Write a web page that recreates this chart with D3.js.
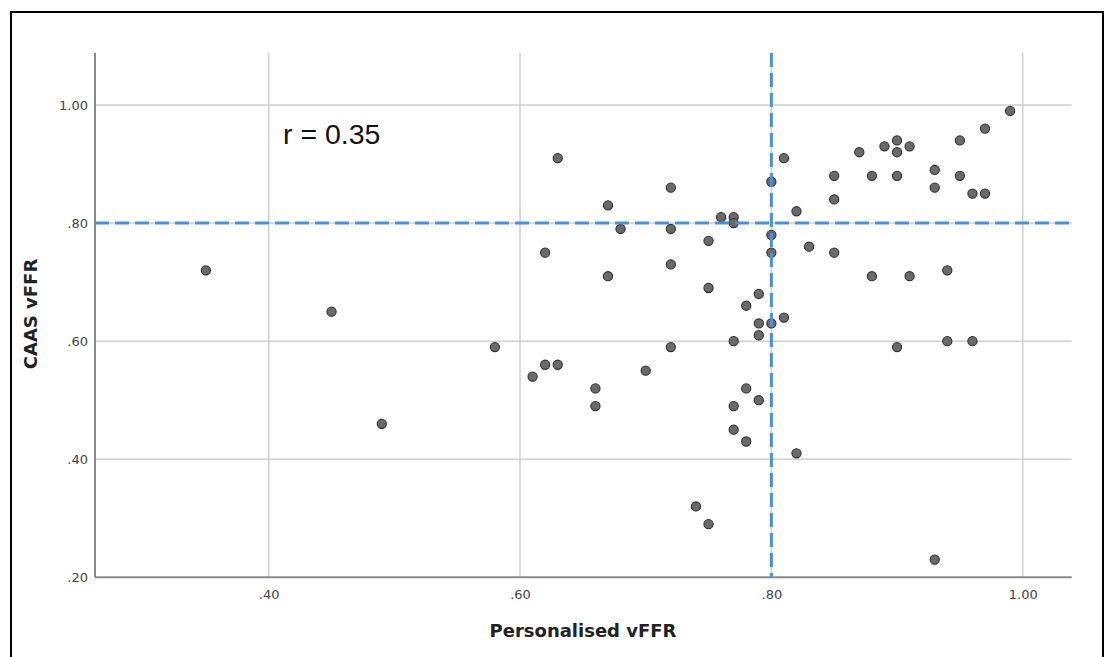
<!DOCTYPE html>
<html>
<head>
<meta charset="utf-8">
<script src="https://cdn.jsdelivr.net/npm/d3@7"></script>
<style>
  html, body { margin: 0; padding: 0; background: #fff; }
  svg { display: block; }
</style>
</head>
<body>
<svg id="chart" width="1114" height="657"></svg>
<script>
// Personalised vFFR (x) values
const personalisedVFFR = [
  0.35, 0.45, 0.49, 0.58, 0.61, 0.62, 0.63, 0.62, 0.63, 0.66,
  0.66, 0.67, 0.67, 0.68, 0.70, 0.72, 0.72, 0.72, 0.72, 0.75,
  0.75, 0.74, 0.75, 0.76, 0.77, 0.77, 0.77, 0.77, 0.77, 0.78,
  0.78, 0.78, 0.79, 0.79, 0.79, 0.79, 0.80, 0.80, 0.80, 0.80,
  0.81, 0.81, 0.82, 0.82, 0.83, 0.85, 0.85, 0.85, 0.87, 0.88,
  0.88, 0.89, 0.90, 0.90, 0.90, 0.90, 0.91, 0.91, 0.93, 0.93,
  0.93, 0.94, 0.94, 0.95, 0.95, 0.96, 0.96, 0.97, 0.97, 0.99
];
// CAAS vFFR (y) values
const caasVFFR = [
  0.72, 0.65, 0.46, 0.59, 0.54, 0.56, 0.56, 0.75, 0.91, 0.52,
  0.49, 0.83, 0.71, 0.79, 0.55, 0.86, 0.79, 0.73, 0.59, 0.77,
  0.69, 0.32, 0.29, 0.81, 0.81, 0.80, 0.60, 0.49, 0.45, 0.66,
  0.52, 0.43, 0.68, 0.63, 0.61, 0.50, 0.87, 0.78, 0.75, 0.63,
  0.91, 0.64, 0.82, 0.41, 0.76, 0.88, 0.84, 0.75, 0.92, 0.88,
  0.71, 0.93, 0.94, 0.92, 0.88, 0.59, 0.93, 0.71, 0.89, 0.86,
  0.23, 0.72, 0.60, 0.94, 0.88, 0.85, 0.60, 0.96, 0.85, 0.99
];
const xTicks = [0.40, 0.60, 0.80, 1.00];
const yTicks = [0.20, 0.40, 0.60, 0.80, 1.00];
const cutoffX = 0.80;
const cutoffY = 0.80;
const annotation = "r = 0.35";
const xTitle = "Personalised vFFR";
const yTitle = "CAAS vFFR";

(function () {
const svg = d3.select("#chart");

// outer frame
svg.append("rect")
  .attr("x", 11).attr("y", 12).attr("width", 1092).attr("height", 660)
  .attr("fill", "none").attr("stroke", "#000").attr("stroke-width", 2);

const pLeft = 95, pRight = 1071.7, pTop = 53, pBottom = 577.3;
const x = d3.scaleLinear().domain([0.40, 1.00]).range([268.7, 1022.7]);
const y = d3.scaleLinear().domain([0.20, 1.00]).range([577.3, 105]);

const fmt = v => d3.format(".2f")(v).replace(/^0/, "");

// gridlines
const grid = svg.append("g");
grid.selectAll("line.vx").data(xTicks).join("line")
  .attr("class", "vx")
  .attr("x1", d => x(d)).attr("x2", d => x(d))
  .attr("y1", pTop).attr("y2", pBottom)
  .attr("stroke", "#cfcfcf").attr("stroke-width", 1.5);
grid.selectAll("line.hy").data(yTicks.filter(d => d > 0.2)).join("line")
  .attr("class", "hy")
  .attr("x1", pLeft).attr("x2", pRight)
  .attr("y1", d => y(d)).attr("y2", d => y(d))
  .attr("stroke", "#cfcfcf").attr("stroke-width", 1.5);

// axes using d3 axis generators
const xAxis = d3.axisBottom(x).tickValues(xTicks).tickFormat(fmt).tickSize(0).tickPadding(12);
const yAxis = d3.axisLeft(y).tickValues(yTicks).tickFormat(fmt).tickSize(0).tickPadding(7);

const gx = svg.append("g").attr("transform", `translate(0,${pBottom})`).call(xAxis);
gx.select(".domain").remove();
const gy = svg.append("g").attr("transform", `translate(${pLeft},0)`).call(yAxis);
gy.select(".domain").remove();
[gx, gy].forEach(g => g.selectAll("text")
  .attr("fill", "#444")
  .attr("font-family", "'DejaVu Sans', sans-serif")
  .attr("font-size", 13));

// axis lines
svg.append("line").attr("x1", pLeft).attr("x2", pLeft).attr("y1", pTop).attr("y2", pBottom)
  .attr("stroke", "#8a8a8a").attr("stroke-width", 2);
svg.append("line").attr("x1", pLeft).attr("x2", pRight).attr("y1", pBottom).attr("y2", pBottom)
  .attr("stroke", "#8a8a8a").attr("stroke-width", 2);

// points
const pts = personalisedVFFR.map((v, i) => ({ x: v, y: caasVFFR[i] }));
svg.append("g").selectAll("circle").data(pts).join("circle")
  .attr("cx", d => x(d.x)).attr("cy", d => y(d.y)).attr("r", 4.6)
  .attr("fill", "#6a6a6a").attr("stroke", "#303030").attr("stroke-width", 1.1);

// reference dashed lines
svg.append("line")
  .attr("x1", pLeft).attr("x2", pRight).attr("y1", y(cutoffY)).attr("y2", y(cutoffY))
  .attr("stroke", "#4a90e2").attr("stroke-width", 3).attr("stroke-dasharray", "14,6");
svg.append("line")
  .attr("x1", x(cutoffX)).attr("x2", x(cutoffX)).attr("y1", pTop).attr("y2", pBottom)
  .attr("stroke", "#4a90e2").attr("stroke-width", 3).attr("stroke-dasharray", "14,6");

// annotation
svg.append("text").attr("x", 283).attr("y", 144)
  .attr("font-family", "'Liberation Sans', Arial, sans-serif")
  .attr("font-size", 28.5).attr("fill", "#111").text(annotation);

// axis titles
svg.append("text").attr("x", 583).attr("y", 637).attr("text-anchor", "middle")
  .attr("font-family", "'DejaVu Sans', sans-serif").attr("font-weight", "bold")
  .attr("font-size", 18).attr("fill", "#222").text(xTitle);
svg.append("text").attr("transform", "translate(37,314) rotate(-90)").attr("text-anchor", "middle")
  .attr("font-family", "'DejaVu Sans', sans-serif").attr("font-weight", "bold")
  .attr("font-size", 18).attr("fill", "#222").text(yTitle);
})();
</script>
</body>
</html>
